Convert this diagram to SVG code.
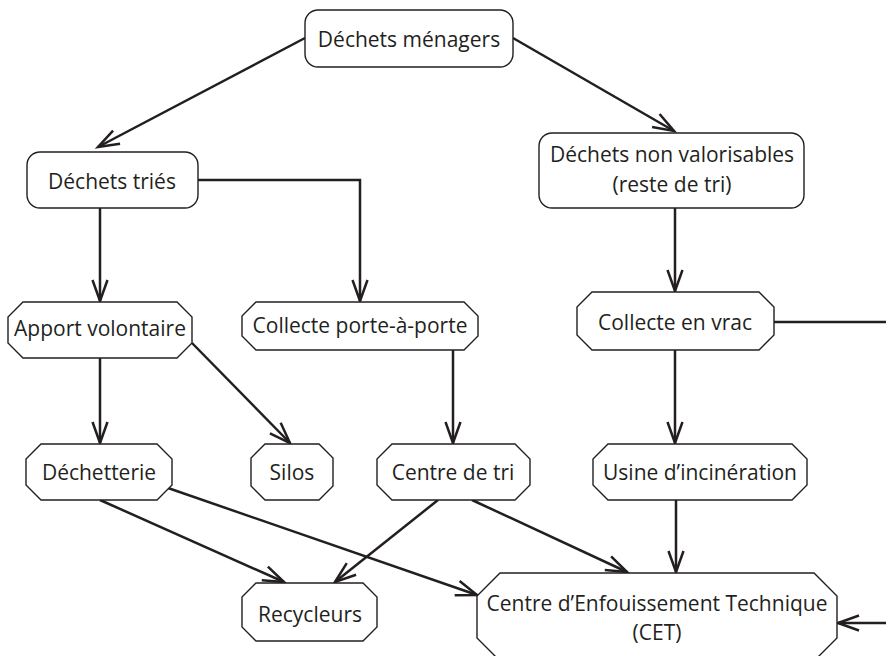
<svg xmlns="http://www.w3.org/2000/svg" width="886" height="656" viewBox="0 0 886 656">
  <style>
    .box { fill: #ffffff; stroke: #231f20; stroke-width: 1.4; }
    .lbl { font-family: "Open Sans", "Liberation Sans", sans-serif; font-size: 21px; fill: #231f20; text-anchor: middle; }
    .edge { fill: none; stroke: #231f20; stroke-width: 2.5; marker-end: url(#arrow); }
  </style>
  <defs>
    <marker id="arrow" markerUnits="userSpaceOnUse" markerWidth="30" markerHeight="24" viewBox="-24 -12 30 24" refX="0" refY="0" orient="auto">
      <path d="M -21 -7.5 L 0 0 L -21 7.5" fill="none" stroke="#231f20" stroke-width="2.5"/>
    </marker>
  </defs>
  <rect width="886" height="656" fill="#ffffff"/>

  <!-- connectors -->
  <g id="connectors">
    <path class="edge" d="M 305 38 L 98 147"/>
    <path class="edge" d="M 513 38 L 674 131"/>
    <path class="edge" d="M 100 208 L 100 301"/>
    <path class="edge" d="M 198 180 L 360 180 L 360 301"/>
    <path class="edge" d="M 675 208 L 675 291"/>
    <path class="edge" d="M 100 358 L 100 443"/>
    <path class="edge" d="M 192 343 L 290 443"/>
    <path class="edge" d="M 453 350 L 453 443"/>
    <path class="edge" d="M 675 350 L 675 443"/>
    <path class="edge" d="M 100 500 L 284 582"/>
    <path class="edge" d="M 168 488 L 477 595"/>
    <path class="edge" d="M 438 500 L 335 582"/>
    <path class="edge" d="M 472 500 L 627 572"/>
    <path class="edge" d="M 676 500 L 676 572"/>
    <path class="edge" d="M 774 322 L 900 322 L 900 623 L 838 623"/>
  </g>

  <g id="dechets-menagers">
    <rect class="box" x="305" y="10" width="208" height="57" rx="13"/>
    <text class="lbl" x="409" y="47">Déchets ménagers</text>
  </g>
  <g id="dechets-tries">
    <rect class="box" x="27" y="152" width="171" height="56" rx="13"/>
    <text class="lbl" x="112" y="189">Déchets triés</text>
  </g>
  <g id="dechets-non-valorisables">
    <rect class="box" x="539" y="133" width="265" height="75" rx="13"/>
    <text class="lbl" x="672" y="162">Déchets non valorisables</text>
    <text class="lbl" x="672" y="192">(reste de tri)</text>
  </g>
  <g id="apport-volontaire">
    <polygon class="box" points="23,302 177,302 192,317 192,343 177,358 23,358 8,343 8,317"/>
    <text class="lbl" x="100" y="336">Apport volontaire</text>
  </g>
  <g id="collecte-porte-a-porte">
    <polygon class="box" points="256,302 464,302 478,316 478,336 464,350 256,350 242,336 242,316"/>
    <text class="lbl" x="360" y="333">Collecte porte-à-porte</text>
  </g>
  <g id="collecte-en-vrac">
    <polygon class="box" points="592,292 759,292 774,307 774,335 759,350 592,350 577,335 577,307"/>
    <text class="lbl" x="675" y="330">Collecte en vrac</text>
  </g>
  <g id="dechetterie">
    <polygon class="box" points="41,444 157,444 172,459 172,485 157,500 41,500 26,485 26,459"/>
    <text class="lbl" x="99" y="480">Déchetterie</text>
  </g>
  <g id="silos">
    <polygon class="box" points="265,444 319,444 333,458 333,486 319,500 265,500 251,486 251,458"/>
    <text class="lbl" x="292" y="480">Silos</text>
  </g>
  <g id="centre-de-tri">
    <polygon class="box" points="392,444 515,444 530,459 530,485 515,500 392,500 377,485 377,459"/>
    <text class="lbl" x="453" y="480">Centre de tri</text>
  </g>
  <g id="usine-incineration">
    <polygon class="box" points="608,444 792,444 807,459 807,485 792,500 608,500 593,485 593,459"/>
    <text class="lbl" x="700" y="480">Usine d’incinération</text>
  </g>
  <g id="recycleurs">
    <polygon class="box" points="256,583 363,583 377,597 377,627 363,641 256,641 242,627 242,597"/>
    <text class="lbl" x="310" y="622">Recycleurs</text>
  </g>
  <g id="cet">
    <polygon class="box" points="500,573 814,573 837,596 837,638 814,661 500,661 477,638 477,596"/>
    <text class="lbl" x="657" y="611">Centre d’Enfouissement Technique</text>
    <text class="lbl" x="657" y="640">(CET)</text>
  </g>
</svg>
